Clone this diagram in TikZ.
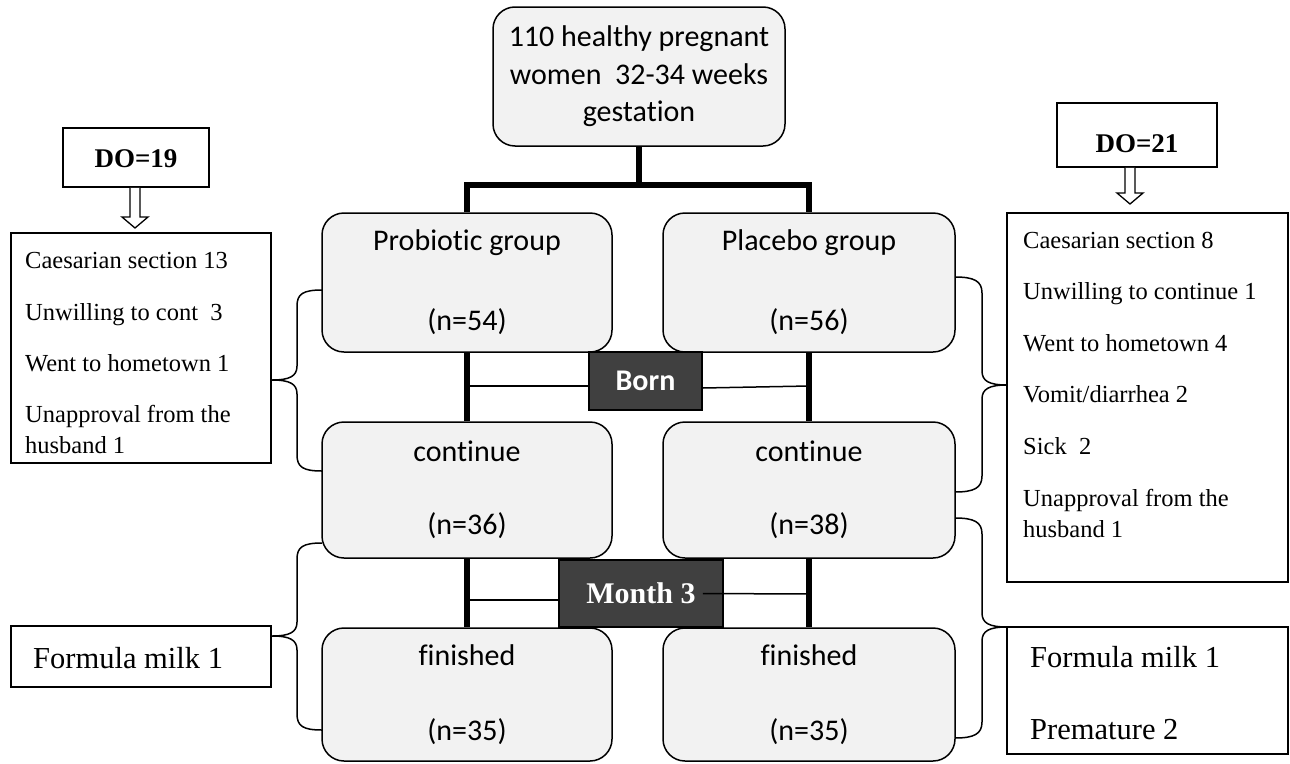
\documentclass[tikz,border=0pt]{standalone}
\usepackage{fontspec}
\setmainfont{Liberation Serif}
\newfontfamily\calfont[Ligatures={NoCommon,NoContextual}]{Carlito}
\definecolor{boxgray}{HTML}{F2F2F2}
\definecolor{darkbox}{HTML}{404040}
\newcommand\LeftBrc[3]{%
 \draw[brc] (322,#1) .. controls (303,#1) and (297,#1+4) .. (297,#1+16) -- (297,#2-14) .. controls (297,#2-4) and (290,#2) .. (272,#2) .. controls (290,#2) and (297,#2+4) .. (297,#2+14) -- (297,#3-16) .. controls (297,#3-4) and (303,#3) .. (322,#3);}
\newcommand\RightBrc[3]{%
 \draw[brc] (955,#1) .. controls (974,#1) and (982,#1+4) .. (982,#1+16) -- (982,#2-14) .. controls (982,#2-4) and (989,#2) .. (1007,#2) .. controls (989,#2) and (982,#2+4) .. (982,#2+14) -- (982,#3-16) .. controls (982,#3-4) and (974,#3) .. (955,#3);}
\begin{document}
\begin{tikzpicture}[x=1pt,y=-1pt,
  rbox/.style={draw=black, line width=1.5pt, fill=boxgray, rounded corners=22pt, inner sep=0pt, align=center,
    font=\fontsize{30}{36}\selectfont\calfont},
  sqbox/.style={draw=black, line width=1.5pt, fill=white, inner sep=0pt},
  darkb/.style={draw=black, line width=1.5pt, fill=darkbox, text=white, inner sep=0pt},
  thickln/.style={line width=6pt},
  thinln/.style={line width=1.5pt},
  brc/.style={line width=1.5pt},
  hollow/.style={line width=1.3pt, fill=white, line join=miter},
  listtxt/.style={anchor=base west, inner sep=0pt, font=\fontsize{24.5}{30}\selectfont},
  bigtxt/.style={anchor=base west, inner sep=0pt, font=\fontsize{30.5}{36}\selectfont},
  dotxt/.style={anchor=base, inner sep=0pt, font=\fontsize{27}{30}\selectfont\bfseries}]
\useasboundingbox (0,0) rectangle (1290,763);
\fill[white] (0,0) rectangle (1290,763);

% main boxes
\node[rbox, minimum width=292pt, minimum height=139pt, font=\fontsize{30}{37.5}\selectfont\calfont] (top) at (639,76.5)
  {110 healthy pregnant\\women\ \ 32-34 weeks\\gestation};
\node[rbox, minimum width=290pt, minimum height=139pt] (prob) at (467,282.5) {Probiotic group\\[44pt](n=54)};
\node[rbox, minimum width=292pt, minimum height=139pt] (plac) at (809,282.5) {Placebo group\\[44pt](n=56)};
\node[rbox, minimum width=290pt, minimum height=136pt] (cont1) at (467,490) {continue\\[37pt](n=36)};
\node[rbox, minimum width=292pt, minimum height=136pt] (cont2) at (809,490) {continue\\[37pt](n=38)};
\node[rbox, minimum width=290pt, minimum height=133pt] (fin1) at (467,694.5) {finished\\[39pt](n=35)};
\node[rbox, minimum width=292pt, minimum height=133pt] (fin2) at (809,694.5) {finished\\[39pt](n=35)};

% thick connectors
\coordinate (split) at (639,185);
\draw[thickln] (top.south) -- (split);
\draw[thickln] (prob.north) |- (split) -| (plac.north);
\draw[thickln] (prob.south) -- (cont1.north);
\draw[thickln] (plac.south) -- (cont2.north);
\draw[thickln] (cont1.south) -- (fin1.north);
\draw[thickln] (cont2.south) -- (fin2.north);

% time points
\node[darkb, minimum width=113pt, minimum height=58pt, font=\fontsize{30}{36}\selectfont\calfont\bfseries] (born) at (645.5,381) {Born};
\node[darkb, minimum width=164pt, minimum height=67pt, font=\fontsize{30}{36}\selectfont\bfseries] (mon) at (641,593.5) {Month 3};
\coordinate (bornL) at (468,386);
\coordinate (bornR) at (809,386);
\coordinate (monL) at (468,600);
\coordinate (monR) at (809,594);
\draw[thinln] (bornL) -- (bornL -| born.west);
\draw[thinln] ([yshift=-7pt]born.east) -- (bornR);
\draw[thinln] (monL) -- (monL -| mon.west);
\draw[thinln] ([xshift=-21pt]mon.east) -- (monR);

% left side
\node[sqbox, minimum width=146pt, minimum height=59pt] (do19) at (136,157.5) {};
\node[dotxt] (do19t) at (136,167) {DO=19};
\draw[hollow] (do19.south -| 130,0) -- (130,217) -- (122,217) -- (135,228) -- (148,217) -- (140,217) -- (do19.south -| 140,0);
\node[sqbox, minimum width=260pt, minimum height=230pt] (llist) at (141,348) {};
\node[listtxt] (l1) at (25,268) {Caesarian section 13};
\node[listtxt] (l2) at (25,320) {Unwilling to cont\ \ 3};
\node[listtxt] (l3) at (25,371) {Went to hometown 1};
\node[listtxt] (l4) at (25,422) {Unapproval from the};
\node[listtxt] (l5) at (25,453) {husband 1};
\node[sqbox, minimum width=260pt, minimum height=61pt] (lform) at (141,656.5) {};
\node[bigtxt] (lf1) at (33,668) {Formula milk 1};

% right side
\node[sqbox, minimum width=160pt, minimum height=64pt] (do21) at (1137,135) {};
\node[dotxt] (do21t) at (1137,152) {DO=21};
\draw[hollow] (do21.south -| 1125,0) -- (1125,193) -- (1117,193) -- (1130,204) -- (1143,193) -- (1135,193) -- (do21.south -| 1135,0);
\node[sqbox, minimum width=281pt, minimum height=369pt] (rlist) at (1147.5,397.5) {};
\node[listtxt] (r1) at (1023,248) {Caesarian section 8};
\node[listtxt] (r2) at (1023,299) {Unwilling to continue 1};
\node[listtxt] (r3) at (1023,351) {Went to hometown 4};
\node[listtxt] (r4) at (1023,402) {Vomit/diarrhea 2};
\node[listtxt] (r5) at (1023,454) {Sick\ \ 2};
\node[listtxt] (r6) at (1023,506) {Unapproval from the};
\node[listtxt] (r7) at (1023,537) {husband 1};
\node[sqbox, minimum width=281pt, minimum height=127pt] (rform) at (1147.5,690.5) {};
\node[bigtxt] (rf1) at (1030,667) {Formula milk 1};
\node[bigtxt] (rf2) at (1030,739) {Premature 2};

% braces
\LeftBrc{290}{380}{471}
\LeftBrc{543}{636}{730}
\RightBrc{277}{385}{492}
\RightBrc{518}{627}{738}
\end{tikzpicture}
\end{document}
